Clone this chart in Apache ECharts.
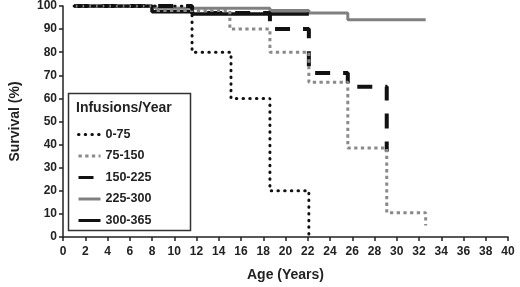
<!DOCTYPE html>
<html><head><meta charset="utf-8">
<script src="https://cdn.jsdelivr.net/npm/echarts@6/dist/echarts.min.js"></script>
<style>html,body{margin:0;padding:0;background:#fff}#c{width:520px;height:287px}</style>
</head><body><div id="c"></div>
<script>
var seriesNames = ['0-75', '75-150', '150-225', '225-300', '300-365'];
var t0_75 = [1, 11.6, 15.1, 18.6, 22.1];
var s0_75 = [100, 80, 60, 20, 0];
var t75_150 = [1, 8.3, 15.0, 18.6, 22.1, 25.6, 29.1, 32.6];
var s75_150 = [100, 98, 90, 80, 67, 38.5, 10.5, 5];
var t150_225 = [1, 11.6, 18.6, 22.1, 25.6, 29.1];
var s150_225 = [100, 97, 90, 71, 65, 37];
var t225_300 = [1, 8.3, 18.6, 22.1, 25.6, 32.6];
var s225_300 = [100, 99, 98, 97, 94, 94];
var t300_365 = [1, 8.0, 11.6, 22.1];
var s300_365 = [100, 97.5, 96.5, 96.5];
var xTicks = [0, 40, 2];
var yTicks = [0, 100, 10];

function pts(t, s) { return t.map(function (x, i) { return [x, s[i]]; }); }

var font = 'Liberation Sans, Arial, sans-serif';
var chart = echarts.init(document.getElementById('c'));
var styles = [
  { color: '#111', width: 3, type: [0.5, 6.2], cap: 'round' },
  { color: '#8a8a8a', width: 3, type: [3.3, 3.4], cap: 'butt' },
  { color: '#111', width: 4, type: [15, 13], cap: 'butt' },
  { color: '#808080', width: 3, type: 'solid' },
  { color: '#111', width: 3.5, type: 'solid' }
];
var datas = [pts(t0_75, s0_75), pts(t75_150, s75_150), pts(t150_225, s150_225), pts(t225_300, s225_300), pts(t300_365, s300_365)];
var order = [3, 4, 2, 1, 0];
var series = order.map(function (i) {
  return {
    name: seriesNames[i], type: 'line', step: 'end', symbol: 'none',
    data: datas[i], lineStyle: styles[i], itemStyle: { color: styles[i].color },
    animation: false
  };
});
chart.setOption({
  animation: false,
  grid: { left: 58, right: 12, top: 6, bottom: 47 },
  xAxis: {
    type: 'value', min: xTicks[0], max: xTicks[1], interval: xTicks[2],
    name: 'Age (Years)', nameLocation: 'middle', nameGap: 31,
    nameTextStyle: { fontFamily: font, fontWeight: 'bold', fontSize: 14, color: '#222' },
    axisLine: { lineStyle: { color: '#222', width: 1.5 } },
    axisTick: { length: 4, lineStyle: { color: '#222', width: 1.5 } },
    axisLabel: { fontFamily: font, fontWeight: 'bold', fontSize: 12, color: '#222', margin: 9 },
    splitLine: { show: false }
  },
  yAxis: {
    type: 'value', min: yTicks[0], max: yTicks[1], interval: yTicks[2],
    name: 'Survival (%)', nameLocation: 'middle', nameGap: 41, nameRotate: 90,
    nameTextStyle: { fontFamily: font, fontWeight: 'bold', fontSize: 14, color: '#222' },
    axisLine: { show: true, lineStyle: { color: '#222', width: 1.5 } },
    axisTick: { show: true, length: 4, lineStyle: { color: '#222', width: 1.5 } },
    axisLabel: { fontFamily: font, fontWeight: 'bold', fontSize: 12, color: '#222', margin: 6 },
    splitLine: { show: false }
  },
  legend: {
    data: seriesNames, orient: 'vertical', left: 72, top: 123, z: 10,
    itemWidth: 22, itemHeight: 14, itemGap: 8.5,
    itemStyle: { opacity: 0 },
    lineStyle: { width: 3 },
    textStyle: { fontFamily: font, fontWeight: 'bold', fontSize: 12.5, color: '#222' }
  },
  graphic: [
    { type: 'rect', shape: { x: 68.5, y: 93.5, width: 122, height: 137 }, style: { fill: '#fff', stroke: '#333', lineWidth: 1.5 }, z: 5 },
    { type: 'text', x: 76, y: 101, style: { text: 'Infusions/Year', font: 'bold 14px ' + font, fill: '#222' }, z: 6 }
  ],
  series: series
});
</script></body></html>
